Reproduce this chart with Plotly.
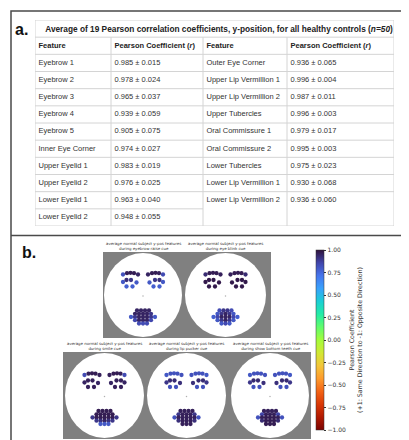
import plotly.graph_objects as go

W, H = 409, 440

# ---------------- panel a: table data ----------------
table_title = "Average of 19 Pearson correlation coefficients, y-position, for all healthy controls (<i>n=50</i>)"
header_labels = ["Feature", "Pearson Coefficient (<i>r</i>)", "Feature", "Pearson Coefficient (<i>r</i>)"]

features_left = ["Eyebrow 1", "Eyebrow 2", "Eyebrow 3", "Eyebrow 4", "Eyebrow 5",
                 "Inner Eye Corner", "Upper Eyelid 1", "Upper Eyelid 2", "Lower Eyelid 1", "Lower Eyelid 2"]
mean_left = [0.985, 0.978, 0.965, 0.939, 0.905, 0.974, 0.983, 0.976, 0.963, 0.948]
sd_left = [0.015, 0.024, 0.037, 0.059, 0.075, 0.027, 0.019, 0.025, 0.040, 0.055]

features_right = ["Outer Eye Corner", "Upper Lip Vermillion 1", "Upper Lip Vermillion 2", "Upper Tubercles",
                  "Oral Commissure 1", "Oral Commissure 2", "Lower Tubercles", "Lower Lip Vermillion 1",
                  "Lower Lip Vermillion 2"]
mean_right = [0.936, 0.996, 0.987, 0.996, 0.979, 0.995, 0.975, 0.930, 0.936]
sd_right = [0.065, 0.004, 0.011, 0.003, 0.017, 0.003, 0.023, 0.068, 0.060]

# ---------------- panel b: face landmark template & correlations ----------------
cue_names = ["eyebrow raise", "eye blink", "smile", "lip pucker", "show bottom teeth"]

landmark_x = [
    -20, -16, -12.5, -9, -5,            # left eyebrow
    5, 9, 12.5, 16, 20,                 # right eyebrow
    -20, -16.5, -12, -6.5, -10.5, -16.5,  # left eye
    6.5, 12, 16.5, 20, 16.5, 10.5,        # right eye
    -6, -2, 2, 6,                       # mouth row 1
    -8, -4, 0, 4, 8,                    # mouth row 2
    -12, -8, -4, 0, 4, 8, 12,           # mouth row 3
    -8, -4, 0, 4, 8,                    # mouth row 4
    -4, 0, 4,                           # mouth row 5
]
landmark_y = [
    20.5, 21.8, 22.2, 21.8, 20.5,
    20.5, 21.8, 22.2, 21.8, 20.5,
    13, 15, 15, 12.5, 8.5, 8.5,
    12.5, 15, 15, 13, 8.5, 8.5,
    -15.5, -15.5, -15.5, -15.5,
    -18.8, -18.8, -18.8, -18.8, -18.8,
    -22, -22, -22, -22, -22, -22, -22,
    -25.2, -25.2, -25.2, -25.2, -25.2,
    -28.5, -28.5, -28.5,
]

r_eyebrow_raise = [
    0.82, 0.96, 0.97, 0.97, 0.95,
    0.95, 0.97, 0.97, 0.96, 0.84,
    0.80, 0.92, 0.90, 0.80, 0.78, 0.78,
    0.80, 0.90, 0.92, 0.80, 0.78, 0.78,
    0.95, 0.95, 0.95, 0.95,
    0.95, 0.95, 0.95, 0.95, 0.90,
    0.80, 0.90, 0.95, 0.95, 0.95, 0.90, 0.80,
    0.85, 0.95, 0.95, 0.95, 0.85,
    0.84, 0.84, 0.84,
]
r_eye_blink = [
    0.93, 0.97, 0.97, 0.97, 0.96,
    0.96, 0.97, 0.97, 0.97, 0.93,
    0.98, 0.98, 0.98, 0.98, 0.98, 0.98,
    0.98, 0.98, 0.98, 0.98, 0.98, 0.98,
    0.84, 0.90, 0.90, 0.84,
    0.80, 0.90, 0.95, 0.90, 0.80,
    0.78, 0.85, 0.95, 0.95, 0.95, 0.85, 0.78,
    0.80, 0.90, 0.95, 0.90, 0.80,
    0.80, 0.85, 0.80,
]
r_smile = [
    0.84, 0.96, 0.97, 0.97, 0.96,
    0.96, 0.97, 0.97, 0.96, 0.84,
    0.95, 0.96, 0.96, 0.95, 0.96, 0.96,
    0.95, 0.96, 0.96, 0.95, 0.96, 0.96,
    0.97, 0.97, 0.97, 0.97,
    0.97, 0.97, 0.97, 0.97, 0.97,
    0.90, 0.97, 0.97, 0.97, 0.97, 0.97, 0.90,
    0.90, 0.92, 0.95, 0.92, 0.90,
    0.80, 0.80, 0.80,
]
r_lip_pucker = [
    0.80, 0.82, 0.82, 0.82, 0.82,
    0.82, 0.82, 0.82, 0.82, 0.80,
    0.90, 0.93, 0.93, 0.92, 0.82, 0.82,
    0.92, 0.93, 0.93, 0.90, 0.82, 0.82,
    0.96, 0.96, 0.96, 0.96,
    0.90, 0.96, 0.96, 0.96, 0.90,
    0.82, 0.96, 0.96, 0.96, 0.96, 0.96, 0.82,
    0.92, 0.96, 0.96, 0.96, 0.92,
    0.96, 0.96, 0.96,
]
r_show_bottom_teeth = [
    0.80, 0.82, 0.82, 0.82, 0.82,
    0.82, 0.82, 0.82, 0.82, 0.80,
    0.90, 0.93, 0.93, 0.92, 0.82, 0.82,
    0.92, 0.93, 0.93, 0.90, 0.82, 0.82,
    0.96, 0.96, 0.96, 0.96,
    0.86, 0.96, 0.96, 0.96, 0.86,
    0.82, 0.96, 0.97, 0.97, 0.97, 0.96, 0.82,
    0.93, 0.97, 0.97, 0.97, 0.93,
    0.97, 0.97, 0.97,
]
cue_values = [r_eyebrow_raise, r_eye_blink, r_smile, r_lip_pucker, r_show_bottom_teeth]

colorbar_ticks = [1.00, 0.75, 0.50, 0.25, 0.00, -0.25, -0.50, -0.75, -1.00]

# ---------------- layout geometry (pixels) ----------------
def px(x):
    return x / W

def py(y):
    return 1 - y / H

# face boxes: (left, right, top, bottom) of each face ellipse
face_boxes = [(96, 174, 245, 329), (177, 258, 245, 329),
              (57, 136, 345, 430), (139, 218, 345, 430), (223, 301, 345, 430)]

fig = go.Figure()
shapes = []
annotations = []

# ---------------- table drawn on its own axes (x: px from table left, y: row index) ----------------
col_edges = [0, 76, 168, 252, 359]
n_rows = 2 + len(features_left)       # title row + header row + data rows
PAD = 3.5
tfont = "Liberation Sans, Arial"

def fmt(m, s):
    return f"{m:.3f} ± {s:.3f}"

table_cols = [
    features_left,
    [fmt(m, s) for m, s in zip(mean_left, sd_left)],
    features_right,
    [fmt(m, s) for m, s in zip(mean_right, sd_right)],
]

TX, TY = "x6", "y6"
fig.update_layout(
    xaxis6=dict(domain=[px(27), px(386)], range=[0, col_edges[-1]], visible=False, fixedrange=True, anchor="y6"),
    yaxis6=dict(domain=[py(218), py(12)], range=[n_rows, 0], visible=False, fixedrange=True, anchor="x6"),
)

# title
fig.add_trace(go.Scatter(x=[184], y=[0.58], xaxis=TX, yaxis=TY, mode="text", text=[f"<b>{table_title}</b>"],
                         textposition="middle center", cliponaxis=False, hoverinfo="skip", showlegend=False,
                         textfont=dict(family=tfont, size=8.3, color="#222")))
# header
fig.add_trace(go.Scatter(x=[e + PAD for e in col_edges[:4]], y=[1.5] * 4, xaxis=TX, yaxis=TY, mode="text",
                         text=[f"<b>{h}</b>" for h in header_labels], textposition="middle right",
                         cliponaxis=False, hoverinfo="skip", showlegend=False, marker=dict(size=0.1),
                         textfont=dict(family=tfont, size=7.5, color="#222")))
# body columns
for c, col in enumerate(table_cols):
    fig.add_trace(go.Scatter(x=[col_edges[c] + PAD] * len(col), y=[2.5 + k for k in range(len(col))],
                             xaxis=TX, yaxis=TY, mode="text", text=col, textposition="middle right",
                             cliponaxis=False, hoverinfo="skip", showlegend=False, marker=dict(size=0.1),
                             textfont=dict(family=tfont, size=7.5, color="#333")))

grid = "#d4d4d4"
def tline(x0, y0, x1, y1):
    shapes.append(dict(type="line", xref=TX, yref=TY, x0=x0, x1=x1, y0=y0, y1=y1,
                       line=dict(color=grid, width=1)))

shapes.append(dict(type="rect", xref=TX, yref=TY, x0=0, x1=col_edges[-1], y0=0, y1=n_rows,
                   line=dict(color=grid, width=1)))
for k in range(1, n_rows):
    if k == n_rows - 1:
        tline(0, k, col_edges[2], k)      # merged cell on the right side
    else:
        tline(0, k, col_edges[-1], k)
for e in col_edges[1:-1]:
    tline(e, 1, e, n_rows)

# panel frames
frame = "#4a4a4a"
shapes.append(dict(type="rect", xref="paper", yref="paper", x0=px(3), x1=px(405), y0=py(436), y1=py(3),
                   line=dict(color=frame, width=1.5)))
shapes.append(dict(type="line", xref="paper", yref="paper", x0=px(3), x1=px(405), y0=py(227.5), y1=py(227.5),
                   line=dict(color=frame, width=1.5)))

# panel labels
annotations.append(dict(x=px(5), y=py(21.5), xref="paper", yref="paper", text="<b>a.</b>", showarrow=False,
                        xanchor="left", yanchor="middle",
                        font=dict(family=tfont, size=16, color="#111")))
annotations.append(dict(x=px(12), y=py(244), xref="paper", yref="paper", text="<b>b.</b>", showarrow=False,
                        xanchor="left", yanchor="middle",
                        font=dict(family=tfont, size=16, color="#111")))

# gray backgrounds of the face rows
shapes.append(dict(type="rect", xref="paper", yref="paper", x0=px(95), x1=px(263), y0=py(330), y1=py(244),
                   line=dict(width=0), fillcolor="#808080", layer="below"))
shapes.append(dict(type="rect", xref="paper", yref="paper", x0=px(55), x1=px(303), y0=py(431), y1=py(344),
                   line=dict(width=0), fillcolor="#808080", layer="below"))

# faces
for i, (cue, vals, box) in enumerate(zip(cue_names, cue_values, face_boxes)):
    l, r, t, b = box
    rx, ry = (r - l) / 2, (b - t) / 2
    ax = "" if i == 0 else str(i + 1)
    fig.update_layout(**{
        f"xaxis{ax}": dict(domain=[px(l), px(r)], range=[-rx, rx], visible=False, fixedrange=True,
                           anchor=f"y{ax}"),
        f"yaxis{ax}": dict(domain=[py(b), py(t)], range=[-ry, ry], visible=False, fixedrange=True,
                           anchor=f"x{ax}"),
    })
    shapes.append(dict(type="circle", xref=f"x{ax}", yref=f"y{ax}", x0=-rx, x1=rx, y0=-ry, y1=ry,
                       fillcolor="white", line=dict(width=0), layer="below"))
    fig.add_trace(go.Scatter(x=[0], y=[-1], xaxis=f"x{ax}", yaxis=f"y{ax}", mode="markers",
                             marker=dict(size=1.5, color="#b0b0b0"), hoverinfo="skip", showlegend=False))
    fig.add_trace(go.Scatter(x=landmark_x, y=landmark_y, xaxis=f"x{ax}", yaxis=f"y{ax}", mode="markers",
                             marker=dict(size=4.3, color=vals, coloraxis="coloraxis", line=dict(width=0)),
                             showlegend=False, name=cue))
    annotations.append(dict(x=px((l + r) / 2), y=py(t - 7), xref="paper", yref="paper",
                            text=f"average normal subject y-pos features<br>during {cue} cue",
                            showarrow=False, xanchor="center", yanchor="middle",
                            font=dict(family="DejaVu Sans", size=3.9, color="#333")))

tick_text = [f"{v:.2f}".replace("-", "\u2212") for v in colorbar_ticks]

fig.update_layout(
    width=W, height=H, autosize=False,
    margin=dict(l=0, r=0, t=0, b=0),
    paper_bgcolor="white", plot_bgcolor="rgba(0,0,0,0)",
    shapes=shapes, annotations=annotations,
    coloraxis=dict(
        colorscale="Turbo", reversescale=True, cmin=-1, cmax=1,
        colorbar=dict(
            x=px(308), xanchor="left", xpad=0, y=py(332), yanchor="middle", ypad=0,
            len=180, lenmode="pixels", thickness=8, thicknessmode="pixels",
            outlinewidth=0.5, outlinecolor="#333",
            tickvals=colorbar_ticks, ticktext=tick_text, ticks="outside", ticklen=2.5, tickwidth=0.6,
            tickcolor="#333", tickfont=dict(family="DejaVu Sans", size=6, color="#333"),
            title=dict(text="Pearson Coefficient<br>(+1: Same Direction to -1: Opposite Direction)",
                       side="right", font=dict(family="DejaVu Sans", size=6.3, color="#333")),
        ),
    ),
)

fig.write_html("out.html")
